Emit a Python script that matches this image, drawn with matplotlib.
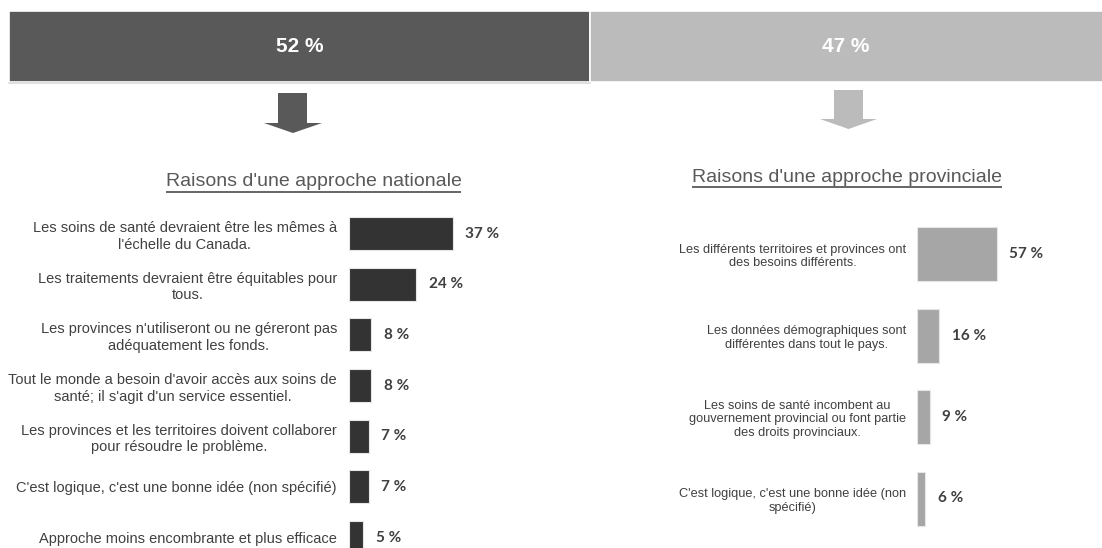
import matplotlib
matplotlib.use("Agg")
import matplotlib.pyplot as plt
from matplotlib.patches import Polygon

# ---------------- data ----------------
banner_labels = ["52 %", "47 %"]
banner_values = [52, 47]

nat_title = "Raisons d'une approche nationale"
nat_categories = [
    "Les soins de santé devraient être les mêmes à\nl'échelle du Canada.",
    "Les traitements devraient être équitables pour\ntous.",
    "Les provinces n'utiliseront ou ne géreront pas\nadéquatement les fonds.",
    "Tout le monde a besoin d'avoir accès aux soins de\nsanté; il s'agit d'un service essentiel.",
    "Les provinces et les territoires doivent collaborer\npour résoudre le problème.",
    "C'est logique, c'est une bonne idée (non spécifié)",
    "Approche moins encombrante et plus efficace",
]
nat_values = [37, 24, 8, 8, 7, 7, 5]

prov_title = "Raisons d'une approche provinciale"
prov_categories = [
    "Les différents territoires et provinces ont\ndes besoins différents.",
    "Les données démographiques sont\ndifférentes dans tout le pays.",
    "Les soins de santé incombent au\ngouvernement provincial ou font partie\ndes droits provinciaux.",
    "C'est logique, c'est une bonne idée (non\nspécifié)",
]
prov_values = [57, 16, 9, 6]

# ---------------- layout helpers ----------------
W, H = 1102, 548
fig = plt.figure(figsize=(W / 100, H / 100), dpi=100)
fig.patch.set_facecolor("white")


def px_axes(left, top, right, bottom, **kw):
    return fig.add_axes([left / W, 1 - bottom / H, (right - left) / W, (bottom - top) / H], **kw)


LABEL_FONT = "Liberation Sans"
VALUE_FONT = "Lato"
TEXT_COL = "#404040"

# ---------------- overlay (arrows, titles) ----------------
ov = px_axes(0, 0, W, H, zorder=0)
ov.set_xlim(0, W)
ov.set_ylim(H, 0)
ov.axis("off")

# arrows
ov.add_patch(Polygon([(278, 93), (307, 93), (307, 123), (322, 123), (293, 133),
                      (264, 123), (278, 123)], closed=True, color="#595959", lw=0))
ov.add_patch(Polygon([(834, 90), (863, 90), (863, 119), (877, 119), (848.5, 129),
                      (820, 119), (834, 119)], closed=True, color="#bbbbbb", lw=0))
# thin line under left banner
ov.plot([9, 590], [83, 83], color="#dadada", lw=1.2)

t1 = ov.text(313.5, 186.5, nat_title, ha="center", va="baseline", fontsize=14,
             family=LABEL_FONT, color="#595959")
t2 = ov.text(847, 181.5, prov_title, ha="center", va="baseline", fontsize=14,
             family=LABEL_FONT, color="#595959")

# ---------------- banner ----------------
bx = px_axes(9, 11, W, 82, zorder=1)
scale = 581 / banner_values[0]
xmax = (W - 9) / scale
lefts = [0, banner_values[0]]
bx.barh([0, 0], banner_values, left=lefts, height=1.0,
        color=["#595959", "#bbbbbb"], edgecolor="white", linewidth=1.2)
bx.set_xlim(0, xmax)
bx.set_ylim(-0.5, 0.5)
bx.axis("off")
for lab, l, v in zip(banner_labels, lefts, banner_values):
    cx = (l + min(l + v, xmax)) / 2
    bx.text(cx, 0, lab, ha="center", va="center", color="white", fontsize=15,
            fontweight="bold", family=LABEL_FONT)


# ---------------- bar panels ----------------
def panel(left, right, first_center, spacing, bar_h, px_per, cats, vals, color,
          label_size, linesp, pad_px):
    ax = px_axes(left, 200, right, H, zorder=2)
    n = len(vals)
    ys = list(range(n))
    ax.barh(ys, vals, height=bar_h / spacing, color=color, edgecolor="#e6e6e6",
            linewidth=0.8)
    ax.set_xlim(0, (right - left) / px_per)
    ax.set_ylim((H - first_center) / spacing, -(first_center - 200) / spacing)
    for s in ax.spines.values():
        s.set_visible(False)
    ax.set_xticks([])
    ax.set_yticks(ys)
    ax.set_yticklabels(cats, fontsize=label_size, family=LABEL_FONT, color=TEXT_COL)
    ax.tick_params(axis="y", length=0, pad=pad_px * 0.72)
    for t in ax.get_yticklabels():
        t.set_multialignment("center")
        t.set_linespacing(linesp)
    for y, v in zip(ys, vals):
        ax.annotate(f"{v} %", (v, y), xytext=(9.0, 0), textcoords="offset points",
                    ha="left", va="center", fontsize=11, fontweight="bold",
                    family=VALUE_FONT, color=TEXT_COL, annotation_clip=False)
    ax.patch.set_alpha(0)
    return ax


panel(349, 560, 233.5, 50.67, 33, 2.81, nat_categories, nat_values, "#333333", 10.5, 1.25, 12)
panel(917, W, 254, 81.5, 54, 1.40, prov_categories, prov_values, "#a6a6a6", 9.2, 1.2, 11)

# ---------------- underline titles ----------------
fig.canvas.draw()
r = fig.canvas.get_renderer()
for t, uy in ((t1, 191.5), (t2, 186.5)):
    bb = t.get_window_extent(r)
    ov.plot([bb.x0, bb.x1], [uy, uy], color="#595959", lw=1.3, solid_capstyle="butt")

fig.savefig("out.png", dpi=100, facecolor="white")
